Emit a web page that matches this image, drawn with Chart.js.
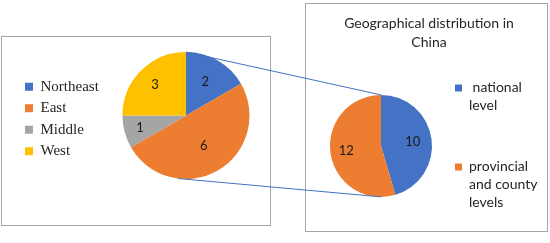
<!DOCTYPE html>
<html>
<head>
<meta charset="utf-8">
<script src="https://cdn.jsdelivr.net/npm/chart.js@4.4.0/dist/chart.umd.min.js"></script>
<style>
  html, body { margin: 0; padding: 0; background: #fff; }
  #page { position: relative; width: 550px; height: 243px; overflow: hidden; }
  .box { position: absolute; border: 1px solid #a6a6a6; box-sizing: border-box; }
  #leftBox { left: 1px; top: 36px; width: 270px; height: 190px; }
  #rightBox { left: 305px; top: 3px; width: 243px; height: 229px; }
  canvas { position: absolute; }
  #leftCanvas { left: 2px; top: 37px; }
  #rightCanvas { left: 306px; top: 4px; }
  #links { left: 0; top: 0; pointer-events: none; }
</style>
</head>
<body>
<div id="page">
  <div class="box" id="leftBox"></div>
  <div class="box" id="rightBox"></div>
  <canvas id="leftCanvas" width="267" height="188"></canvas>
  <canvas id="rightCanvas" width="241" height="226"></canvas>
  <canvas id="links" width="550" height="243"></canvas>
</div>
<script>
// data
const regions = ['Northeast', 'East', 'Middle', 'West'];
const regionCounts = [2, 6, 1, 3];
const levels = [' national level', 'provincial and county levels'];
const levelCounts = [10, 12];
// legend text wrapped the way the original shows it (blank lines keep the gap)
const levelLegendLines = [[' national', 'level', '', ''], ['provincial', 'and county', 'levels']];
const titleLines = ['Geographical distribution in', 'China'];

const regionColors = ['#4472C4', '#ED7D31', '#A5A5A5', '#FFC000'];
const levelColors = ['#4472C4', '#ED7D31'];

// where the value labels sit, as a share of the radius
const regionLabelR = [0.61, 0.56, 0.75, 0.69];
const levelLabelR = [0.63, 0.69];

Chart.defaults.font.family = 'Lato';

function sliceLabels(fractions) {
  return {
    id: 'sliceLabels',
    afterDatasetsDraw(chart) {
      const ctx = chart.ctx;
      const meta = chart.getDatasetMeta(0);
      const values = chart.data.datasets[0].data;
      ctx.save();
      ctx.font = '13px Lato';
      ctx.fillStyle = '#1a1a1a';
      ctx.textAlign = 'center';
      ctx.textBaseline = 'middle';
      meta.data.forEach((arc, i) => {
        const mid = (arc.startAngle + arc.endAngle) / 2;
        const r = arc.outerRadius * fractions[i];
        ctx.fillText(values[i], arc.x + Math.cos(mid) * r, arc.y + Math.sin(mid) * r);
      });
      ctx.restore();
    }
  };
}

const leftChart = new Chart(document.getElementById('leftCanvas'), {
  type: 'pie',
  data: {
    labels: regions,
    datasets: [{
      data: regionCounts,
      backgroundColor: regionColors,
      borderWidth: 0,
      radius: 63.5,
      clip: false
    }]
  },
  options: {
    responsive: false,
    animation: false,
    layout: { padding: { left: 16.5, right: 3, top: 0, bottom: 31 } },
    plugins: {
      legend: {
        position: 'left',
        maxWidth: 87.5,
        title: { display: true, text: '', padding: 0, font: { size: 7, lineHeight: 1 } },
        labels: {
          font: { family: 'Liberation Serif', size: 15 },
          color: '#262626',
          boxWidth: 8,
          boxHeight: 8,
          padding: 6.5
        }
      },
      tooltip: { enabled: false }
    }
  },
  plugins: [sliceLabels(regionLabelR)]
});

const rightChart = new Chart(document.getElementById('rightCanvas'), {
  type: 'pie',
  data: {
    labels: levels,
    datasets: [{
      data: levelCounts,
      backgroundColor: levelColors,
      borderWidth: 0,
      radius: 51,
      clip: false
    }]
  },
  options: {
    responsive: false,
    animation: false,
    layout: { padding: { left: 8, right: 3, top: 0, bottom: 0 } },
    plugins: {
      title: {
        display: true,
        text: titleLines,
        color: '#262626',
        font: { family: 'Lato', size: 14, weight: 'normal', lineHeight: 1.35 },
        padding: { top: 10, bottom: 10 }
      },
      legend: {
        position: 'right',
        fullSize: false,
        maxWidth: 96,
        title: { display: true, text: '', padding: 0, font: { size: 3, lineHeight: 1 } },
        labels: {
          font: { family: 'Lato', size: 14, lineHeight: '18px' },
          color: '#262626',
          boxWidth: 7,
          boxHeight: 7,
          padding: 7,
          generateLabels(chart) {
            const items = Chart.overrides.doughnut.plugins.legend.labels.generateLabels(chart);
            items.forEach((it, i) => { it.text = levelLegendLines[i]; });
            return items;
          }
        }
      },
      tooltip: { enabled: false }
    }
  },
  plugins: [sliceLabels(levelLabelR)]
});

// connector lines between the two pies (angles in degrees, clockwise from top)
const linkAngles = [[0, 0], [187, 180]];

function rimPoint(chart, deg) {
  const arc = chart.getDatasetMeta(0).data[0];
  const a = (deg - 90) * Math.PI / 180;
  return [
    chart.canvas.offsetLeft + arc.x + Math.cos(a) * arc.outerRadius,
    chart.canvas.offsetTop + arc.y + Math.sin(a) * arc.outerRadius
  ];
}

const lctx = document.getElementById('links').getContext('2d');
lctx.strokeStyle = '#4472C4';
lctx.lineWidth = 1;
linkAngles.forEach(([a, b]) => {
  const p = rimPoint(leftChart, a);
  const q = rimPoint(rightChart, b);
  lctx.beginPath();
  lctx.moveTo(p[0], p[1]);
  lctx.lineTo(q[0], q[1]);
  lctx.stroke();
});
</script>
</body>
</html>
